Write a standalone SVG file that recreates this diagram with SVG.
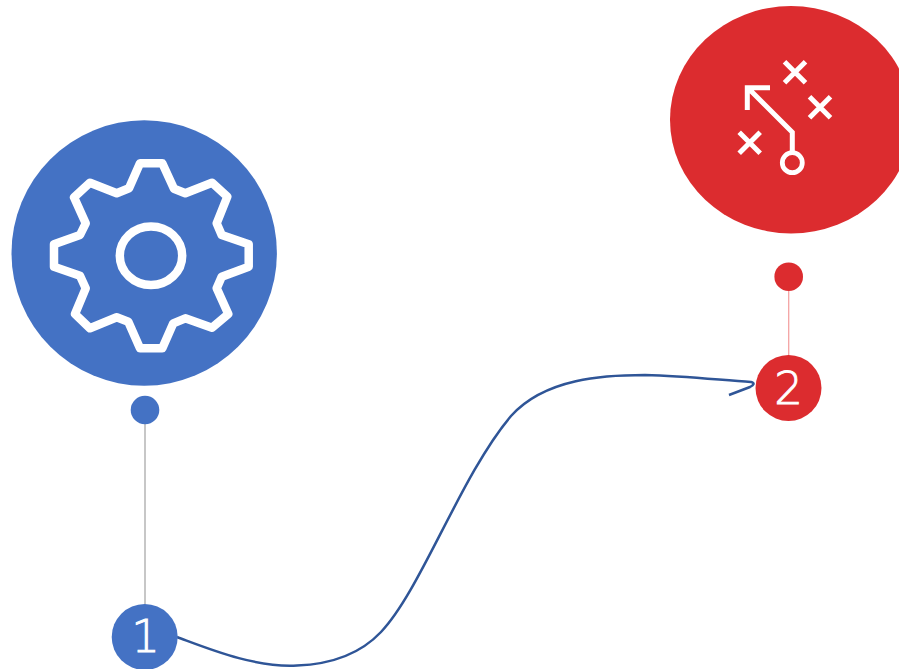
<svg xmlns="http://www.w3.org/2000/svg" width="899" height="669" viewBox="0 0 899 669">
<style>
.num{font-family:"DejaVu Sans","Liberation Sans",sans-serif;font-size:45px;font-weight:200;fill:#fff;stroke:#fff;stroke-width:0.9;text-anchor:middle}
.ic{fill:none;stroke:#fff;stroke-linejoin:round}
.blue{fill:#4472c4}
.red{fill:#dc2c2f}
</style>
<rect width="899" height="669" fill="#fff"/>
<g id="connectors" fill="none">
<line x1="145" y1="424" x2="145" y2="605" stroke="#b4b4b4" stroke-width="1.5"/>
<line x1="788.7" y1="290" x2="788.7" y2="356" stroke="#f4a3a3" stroke-width="1.3"/>
<path d="M177,637 C207,648 255,668 297,665.5 C337,664 364,650 381,632 C421,590 461,475 511,416 C545,378 605,375 645,375 C685,376 720,380 751,382 C755,383 754,385 750,387 L729,395" stroke="#2f5597" stroke-width="2.5"/>
</g>
<g id="node-gear">
<circle class="blue" cx="144.2" cy="253" r="132.7"/>
<path class="ic" stroke-width="8.5" d="M140,163.3 L162.3,163.3 L174,188.7 L185.3,193.3 L212,182.7 L227.3,196.7 L216.7,223.3 L221.7,235 L248.7,244.3 L248.7,266.7 L221.7,276.7 L216.7,288.3 L228.3,314 L212,327.7 L185.3,318.3 L173.3,323.3 L162.3,348.3 L140,348.3 L128.3,321.7 L116.7,317.3 L90,328.3 L75,314 L85.7,288.3 L80,275.7 L54,266.7 L54,244.3 L80,235 L85.7,223.3 L74,197.3 L90,182.7 L116.7,193.3 L129,188.3 Z"/>
<ellipse class="ic" stroke-width="8.5" cx="151" cy="255.7" rx="31.2" ry="29.3"/>
</g>
<g id="node-play">
<ellipse class="red" cx="791" cy="119.7" rx="121" ry="113.7"/>
<path fill="none" stroke="#fff" stroke-width="5" d="M792.3,152 L792.3,132.3 L749,89 M770,87.7 L747.3,87.7 L747.3,110 M784.5,61.8 L805.5,82.8 M805.5,61.8 L784.5,82.8 M809.5,96.8 L830.5,117.8 M830.5,96.8 L809.5,117.8 M739.2,132.2 L760.2,153.2 M760.2,132.2 L739.2,153.2"/>
<circle cx="792.3" cy="162.7" r="10" fill="none" stroke="#fff" stroke-width="4.8"/>
</g>
<g id="dot-blue"><circle class="blue" cx="145" cy="410" r="14.3"/></g>
<g id="dot-red"><circle class="red" cx="788.7" cy="276.7" r="14.3"/></g>
<g id="node-1">
<circle class="blue" cx="144.7" cy="637" r="33"/>
<text class="num" x="145.5" y="652">1</text>
</g>
<g id="node-2">
<circle class="red" cx="788.5" cy="388" r="33"/>
<text class="num" x="788.5" y="404">2</text>
</g>
</svg>
